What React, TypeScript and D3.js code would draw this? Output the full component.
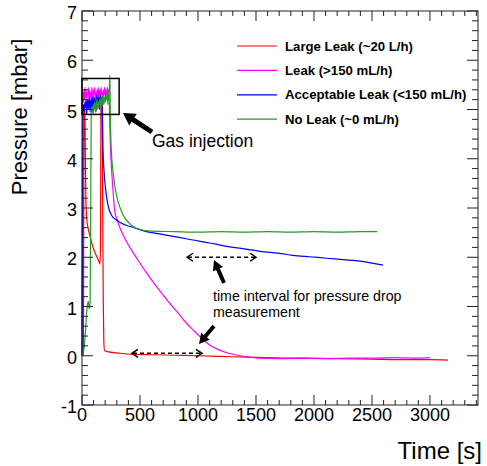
import React from "react";
import * as d3 from "d3";

// time axis in s, pressure in mbar
const xTicks = [0, 500, 1000, 1500, 2000, 2500, 3000];
const yTicks = [-1, 0, 1, 2, 3, 4, 5, 6, 7];

const largeLeakT = [0, 12, 17, 21, 25, 29, 34, 42, 52, 70, 95, 120, 145, 155, 160, 163, 168, 174, 178, 183, 188, 195, 230, 300, 420, 600, 800, 1000, 1300, 1600, 1900, 2200, 2500, 2800, 3000, 3155];
const largeLeakP = [0, 0.03, 4.95, 5.05, 4.9, 4.0, 3.1, 2.75, 2.6, 2.42, 2.2, 2.05, 1.92, 1.86, 2.3, 5.05, 5.15, 5.0, 3.2, 1.2, 0.3, 0.1, 0.08, 0.06, 0.03, 0.02, 0.01, 0.0, -0.02, -0.04, -0.05, -0.06, -0.07, -0.08, -0.08, -0.09];

const leakT = [0, 3, 6, 10, 14, 18, 22, 26, 30, 35, 40, 45, 50, 55, 60, 65, 70, 75, 80, 85, 90, 95, 100, 105, 110, 115, 120, 125, 130, 135, 140, 145, 150, 155, 160, 165, 170, 175, 180, 185, 190, 195, 200, 205, 210, 215, 220, 225, 230, 236, 242, 250, 260, 272, 283, 300, 330, 370, 420, 480, 540, 600, 670, 740, 820, 900, 960, 1030, 1100, 1180, 1250, 1320, 1390, 1460, 1540, 1700, 1900, 2100, 2300, 2500, 2700, 2900, 3000];
const leakP = [0, 2.5, 5.2, 5.35, 5.15, 5.4, 5.2, 5.45, 5.25, 5.4, 5.15, 5.35, 5.3, 5.45, 5.2, 5.4, 5.25, 5.35, 5.15, 5.45, 5.3, 5.2, 5.4, 5.3, 5.45, 5.2, 5.35, 5.25, 5.4, 5.3, 5.45, 5.2, 5.35, 5.4, 5.25, 5.45, 5.3, 5.35, 5.2, 5.4, 5.3, 5.45, 5.25, 5.4, 5.3, 5.35, 5.45, 5.3, 5.4, 5.1, 4.5, 4.0, 3.6, 3.2, 2.92, 2.78, 2.58, 2.38, 2.17, 1.95, 1.74, 1.54, 1.32, 1.11, 0.89, 0.66, 0.52, 0.36, 0.22, 0.12, 0.06, 0.02, -0.01, -0.03, -0.05, -0.06, -0.05, -0.06, -0.05, -0.05, -0.04, -0.05, -0.04];

const acceptT = [0, 4, 7, 10, 15, 20, 25, 30, 35, 40, 45, 50, 55, 60, 65, 70, 75, 80, 85, 90, 95, 100, 105, 110, 115, 120, 125, 130, 135, 140, 145, 150, 155, 160, 165, 170, 176, 181, 190, 205, 225, 253, 300, 370, 450, 526, 600, 700, 800, 957, 1100, 1250, 1400, 1534, 1700, 1819, 1960, 2112, 2250, 2397, 2500, 2595];
const acceptP = [0, 2.0, 4.9, 5.0, 5.1, 4.95, 5.15, 5.05, 5.2, 4.9, 5.1, 5.2, 5.0, 5.15, 5.25, 4.95, 5.1, 5.2, 5.05, 5.25, 4.92, 5.15, 5.25, 5.1, 5.2, 4.95, 5.15, 5.3, 5.1, 5.2, 5.25, 5.0, 5.2, 5.3, 5.1, 5.25, 5.0, 4.2, 3.75, 3.35, 3.05, 2.86, 2.75, 2.66, 2.6, 2.54, 2.5, 2.46, 2.42, 2.35, 2.29, 2.22, 2.17, 2.12, 2.08, 2.04, 2.01, 1.98, 1.95, 1.92, 1.88, 1.84];

const noLeakT = [0, 10, 20, 30, 45, 55, 62, 70, 75, 80, 86, 92, 98, 104, 110, 116, 122, 128, 134, 140, 146, 152, 158, 164, 170, 176, 182, 188, 194, 200, 206, 212, 218, 224, 230, 235, 240, 244, 253, 270, 290, 310, 350, 425, 500, 600, 800, 1000, 1200, 1400, 1600, 1800, 2000, 2200, 2400, 2545];
const noLeakP = [0, 0.05, 0.2, 0.5, 1.0, 1.1, 0.95, 1.1, 3.0, 4.95, 5.05, 4.95, 5.1, 5.0, 5.15, 4.95, 5.1, 5.2, 5.0, 5.15, 5.05, 5.2, 5.1, 5.25, 5.05, 5.2, 5.3, 5.1, 5.25, 5.15, 5.3, 5.2, 5.35, 5.1, 5.3, 5.35, 5.7, 4.9, 4.16, 3.7, 3.35, 3.14, 2.88, 2.65, 2.56, 2.53, 2.52, 2.51, 2.52, 2.51, 2.52, 2.51, 2.52, 2.51, 2.52, 2.52];

const seriesNames = ["Large Leak (~20 L/h)", "Leak (>150 mL/h)", "Acceptable Leak (<150 mL/h)", "No Leak (~0 mL/h)"];
const seriesColors = ["#ff0000", "#ff00ff", "#0000ff", "#1fa01f"];

const font = "'Liberation Sans', Arial, Helvetica, sans-serif";

export default function App() {
  const x = d3.scaleLinear().domain([0, 3414]).range([82, 478]);
  const y = d3.scaleLinear().domain([-1, 7]).range([405, 11]);

  const series = [
    [largeLeakT, largeLeakP],
    [leakT, leakP],
    [acceptT, acceptP],
    [noLeakT, noLeakP],
  ].map(([t, p]) => t.map((v, i) => [v, p[i]] as [number, number]));

  const line = d3.line<[number, number]>().x((d) => x(d[0])).y((d) => y(d[1])).curve(d3.curveMonotoneX);

  const xMinor = d3.range(0, 3401, 100).filter((v) => v % 500 !== 0);
  const yMinor = d3.range(-1, 7.001, 0.2).filter((v) => Math.abs(v - Math.round(v)) > 0.01);

  const [x0, x1] = x.range();
  const [y0, y1] = y.range();

  // dashed interval arrows
  const dashed = (ta: number, tb: number, p: number, key: string) => {
    const xa = x(ta), xb = x(tb), yy = y(p);
    return (
      <g key={key} stroke="#000" strokeWidth={1.5} fill="none">
        <line x1={xa + 2} x2={xb - 2} y1={yy} y2={yy} strokeDasharray="4,3" />
        <polyline points={`${xa + 7},${yy - 4} ${xa + 1},${yy} ${xa + 7},${yy + 4}`} />
        <polyline points={`${xb - 7},${yy - 4} ${xb - 1},${yy} ${xb - 7},${yy + 4}`} />
      </g>
    );
  };

  // thick block arrow from tail to tip
  const fatArrow = (tx: number, ty: number, hx: number, hy: number, w: number, hl: number, hw: number, key: string) => {
    const ang = Math.atan2(hy - ty, hx - tx);
    const ux = Math.cos(ang), uy = Math.sin(ang);
    const nx = -uy, ny = ux;
    const bx = hx - ux * hl, by = hy - uy * hl;
    const pts = [
      [tx + nx * w / 2, ty + ny * w / 2],
      [bx + nx * w / 2, by + ny * w / 2],
      [bx + nx * hw / 2, by + ny * hw / 2],
      [hx, hy],
      [bx - nx * hw / 2, by - ny * hw / 2],
      [bx - nx * w / 2, by - ny * w / 2],
      [tx - nx * w / 2, ty - ny * w / 2],
    ];
    return <polygon key={key} points={pts.map((q) => q.join(",")).join(" ")} fill="#000" />;
  };

  return (
    <>
      <style>{"body{margin:0}"}</style>
      <svg width={487} height={466} style={{ display: "block", background: "#fff" }} fontFamily={font}>
        {/* curves */}
        <g fill="none" strokeWidth={1.2}>
          {series.map((s, i) => (
            <path key={i} d={line(s) ?? ""} stroke={seriesColors[i]} />
          ))}
        </g>

        {/* frame */}
        <rect x={x0} y={y1} width={x1 - x0} height={y0 - y1} fill="none" stroke="#222" strokeWidth={1} />

        {/* ticks on all four sides */}
        <g stroke="#222" strokeWidth={1}>
          {xTicks.map((v) => (
            <g key={"xt" + v}>
              <line x1={x(v)} x2={x(v)} y1={y0} y2={y0 - 10} />
              <line x1={x(v)} x2={x(v)} y1={y1} y2={y1 + 10} />
            </g>
          ))}
          {xMinor.map((v) => (
            <g key={"xm" + v}>
              <line x1={x(v)} x2={x(v)} y1={y0} y2={y0 - 5} />
              <line x1={x(v)} x2={x(v)} y1={y1} y2={y1 + 5} />
            </g>
          ))}
          {yTicks.map((v) => (
            <g key={"yt" + v}>
              <line x1={x0} x2={x0 + 11} y1={y(v)} y2={y(v)} />
              <line x1={x1} x2={x1 - 11} y1={y(v)} y2={y(v)} />
            </g>
          ))}
          {yMinor.map((v, i) => (
            <g key={"ym" + i}>
              <line x1={x0} x2={x0 + 6} y1={y(v)} y2={y(v)} />
              <line x1={x1} x2={x1 - 6} y1={y(v)} y2={y(v)} />
            </g>
          ))}
        </g>

        {/* tick labels */}
        <g fontSize={18} fill="#000">
          {xTicks.map((v) => (
            <text key={"xl" + v} x={x(v)} y={421} textAnchor="middle">{v}</text>
          ))}
          {yTicks.map((v) => (
            <text key={"yl" + v} x={77} y={y(v) + 8} textAnchor="end">{v}</text>
          ))}
        </g>

        {/* axis titles */}
        <text x={482} y={459} textAnchor="end" fontSize={24}>Time [s]</text>
        <text transform="translate(27,117) rotate(-90)" textAnchor="middle" fontSize={22}>Pressure [mbar]</text>

        {/* legend */}
        <g fontSize={13.2} fontWeight="bold">
          {seriesNames.map((n, i) => (
            <g key={n} transform={`translate(0,${46 + i * 24.4})`}>
              <line x1={237} x2={277} y1={0} y2={0} stroke={seriesColors[i]} strokeWidth={1.2} />
              <text x={285} y={4.5}>{n}</text>
            </g>
          ))}
        </g>

        {/* gas injection box */}
        <rect x={x(0)} y={y(5.63)} width={x(320) - x(0)} height={y(4.9) - y(5.63)} fill="none" stroke="#000" strokeWidth={1.5} />
        {fatArrow(152, 132, 123, 113, 5, 12, 14, "ga")}
        <text x={152} y={147} fontSize={17.5}>Gas injection</text>

        {/* interval annotation */}
        {dashed(897, 1509, 2.0, "d1")}
        {dashed(422, 1043, 0.05, "d2")}
        {fatArrow(224, 283, 214, 260, 4, 10, 11, "a1")}
        {fatArrow(214, 326, 199, 344, 4, 10, 11, "a2")}
        <text x={213} y={301} fontSize={14.2}>time interval for pressure drop</text>
        <text x={213} y={317} fontSize={14.2}>measurement</text>
      </svg>
    </>
  );
}
